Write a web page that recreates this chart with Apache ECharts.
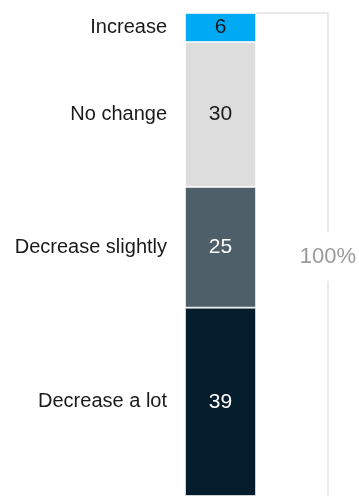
<!DOCTYPE html>
<html>
<head>
<meta charset="utf-8">
<style>
  html, body { margin: 0; padding: 0; background: #fff; }
  #chart { width: 359px; height: 496px; }
</style>
<script src="https://cdn.jsdelivr.net/npm/echarts@6/dist/echarts.min.js"></script>
</head>
<body>
<div id="chart"></div>
<script>
// Share of respondents, top to bottom of the stacked bar
const categories = ['Increase', 'No change', 'Decrease slightly', 'Decrease a lot'];
const values = [6, 30, 25, 39];
const colors = ['#00a9f4', '#dddddd', '#4e5f6a', '#051c2c'];
const valueTextColors = ['#1a1a1a', '#1a1a1a', '#ffffff', '#ffffff'];
const totalLabel = '100%';

(function () {
  const FONT = '"Liberation Sans", Arial, Helvetica, sans-serif';
  const chart = echarts.init(document.getElementById('chart'));

  const series = [];
  // Coloured segments with their value inside
  categories.forEach((name, i) => {
    series.push({
      name: name,
      type: 'bar',
      stack: 'share',
      barWidth: '100%',
      data: [values[i]],
      itemStyle: { color: colors[i], borderColor: 'rgba(255,255,255,0.6)', borderWidth: 1 },
      label: {
        show: true, position: 'inside', formatter: String(values[i]),
        color: valueTextColors[i], fontFamily: FONT, fontSize: 21
      },
      silent: true
    });
  });
  // Transparent twin stack carrying the category names to the left
  categories.forEach((name, i) => {
    series.push({
      name: name + ' label',
      type: 'bar',
      stack: 'names',
      barWidth: '100%',
      barGap: '-100%',
      data: [values[i]],
      itemStyle: { color: 'rgba(0,0,0,0)' },
      label: {
        show: true, position: 'left', distance: 18, formatter: name,
        color: '#1a1a1a', fontFamily: FONT, fontSize: 20
      },
      silent: true
    });
  });

  chart.setOption({
    animation: false,
    grid: { left: 185, right: 103, top: 13, bottom: 0 },
    xAxis: { type: 'category', data: [''], show: false },
    yAxis: { type: 'value', min: 0, max: 100, inverse: true, show: false },
    series: series
  });

  // Bracket marking the full 100% span of the bar
  const yTop = chart.convertToPixel({ yAxisIndex: 0 }, 0);
  const yBottom = chart.convertToPixel({ yAxisIndex: 0 }, 100);
  const barRight = chart.convertToPixel({ xAxisIndex: 0 }, 0) + 71 / 2;
  const bx = 328;
  const mid = (yTop + yBottom) / 2 + 2;
  const gap = 24.5;
  const lineStyle = { stroke: '#e4e4e4', lineWidth: 1.5 };
  chart.setOption({
    graphic: [
      { type: 'polyline', shape: { points: [[barRight, yTop], [bx, yTop], [bx, mid - gap]] }, style: Object.assign({ fill: null }, lineStyle), silent: true },
      { type: 'line', shape: { x1: bx, y1: mid + gap, x2: bx, y2: yBottom }, style: lineStyle, silent: true },
      {
        type: 'text', x: bx, y: mid,
        style: { text: totalLabel, fill: '#9a9a9a', font: '22px ' + FONT, textAlign: 'center', textVerticalAlign: 'middle' },
        silent: true
      }
    ]
  });
})();
</script>
</body>
</html>
